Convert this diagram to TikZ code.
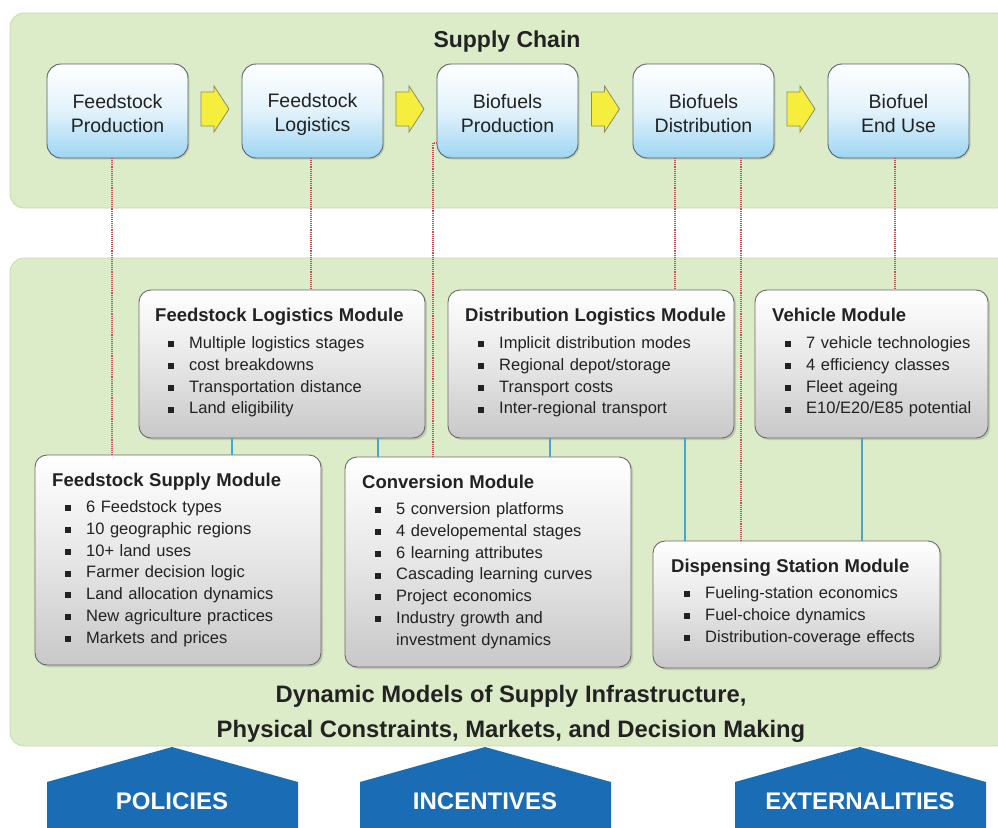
\documentclass[tikz,border=0pt]{standalone}
\usepackage{fontspec}
\setmainfont{Liberation Sans}
\usetikzlibrary{shadows,calc}
\setlength{\parindent}{0pt}
\definecolor{panelfill}{RGB}{221,236,200}
\definecolor{paneldraw}{RGB}{200,216,178}
\definecolor{boxblue}{RGB}{158,213,243}
\definecolor{boxdraw}{RGB}{85,98,104}
\definecolor{modgray}{RGB}{200,200,200}
\definecolor{moddraw}{RGB}{105,105,105}
\definecolor{yfill}{RGB}{246,238,60}
\definecolor{ydraw}{RGB}{140,140,95}
\definecolor{reddot}{RGB}{200,80,80}
\definecolor{bluelink}{RGB}{72,165,205}
\definecolor{pentablue}{RGB}{26,109,181}
\definecolor{txt}{RGB}{34,34,34}
\newcommand\mtitle[1]{{\fontsize{18.5}{21.8}\selectfont\bfseries #1}}
\newcommand\bitem{\hspace*{12.5pt}\raisebox{1.3pt}{\rule{6pt}{6pt}}\hspace{15.5pt}}
\newcommand\bcont{\hspace*{34pt}}
\newcommand\tstrut{\rule[-1.5pt]{0pt}{22.5pt}}
\begin{document}
\begin{tikzpicture}[x=1pt,y=-1pt,
  panel/.style={fill=panelfill,draw=paneldraw,line width=0.8pt,rounded corners=14pt},
  topbox/.style={draw=boxdraw,line width=0.9pt,rounded corners=14pt,
    top color=white,bottom color=boxblue,middle color=boxblue!30,
    minimum width=141pt,minimum height=94pt,inner sep=0pt,outer sep=0pt,
    align=center,text=txt,font=\fontsize{19.5}{24}\selectfont,
    drop shadow={shadow xshift=1.5pt,shadow yshift=-1.5pt,opacity=0.25}},
  modbox/.style={draw=moddraw,line width=0.9pt,rounded corners=12pt,
    top color=white,bottom color=modgray,middle color=modgray!45,
    anchor=north west,inner sep=0pt,outer sep=0pt,
    drop shadow={shadow xshift=2pt,shadow yshift=-2pt,opacity=0.3}},
  modtext/.style={anchor=north west,inner sep=0pt,text width=270pt,align=left,
    text=txt,font=\fontsize{16.5}{21.8}\selectfont},
  yarrow/.style={fill=yfill,draw=ydraw,line width=0.8pt,line join=miter},
  reddotted/.style={draw=reddot,line width=1.1pt,densely dotted},
  bluelinestyle/.style={draw=bluelink,line width=1.6pt},
  penta/.style={fill=pentablue},
  pentatext/.style={text=white,font=\fontsize{24}{28}\selectfont\bfseries}]
\useasboundingbox (0,0) rectangle (998,827);

% panels
\path[panel] (10,13) rectangle (1010,208);
\path[panel] (10,258) rectangle (1010,746);

\node[anchor=base,text=txt,font=\fontsize{23}{27}\selectfont\bfseries] (sc) at (507,47) {Supply Chain};

% top boxes
\node[topbox] (b1) at (117.5,111) {\tstrut Feedstock\\\tstrut Production};
\node[topbox] (b2) at (312.5,111) {\tstrut Feedstock\\\tstrut Logistics};
\node[topbox] (b3) at (507.5,111) {\tstrut Biofuels\\\tstrut Production};
\node[topbox] (b4) at (703.5,111) {\tstrut Biofuels\\\tstrut Distribution};
\node[topbox] (b5) at (898.5,111) {\tstrut Biofuel\\\tstrut End Use};

% yellow block arrows
\foreach \a/\b in {b1/b2,b2/b3,b3/b4,b4/b5}{
  \coordinate (m) at ($(\a.east)!0.5!(\b.west)+(0,-2)$);
  \begin{scope}[shift={(m)}]
    \draw[yarrow] (-14,-17) -- (-1,-17) -- (-1,-23) -- (14,0) -- (-1,23) -- (-1,17) -- (-14,17) -- cycle;
  \end{scope}
}

% module boxes
\node[modbox,minimum width=286pt,minimum height=148pt] (flm) at (139,290) {};
\node[modbox,minimum width=286pt,minimum height=148pt] (dlm) at (448,290) {};
\node[modbox,minimum width=233pt,minimum height=148pt] (veh) at (755,290) {};
\node[modbox,minimum width=286pt,minimum height=210pt] (fsm) at (35,455) {};
\node[modbox,minimum width=286pt,minimum height=210pt] (conv) at (345,457) {};
\node[modbox,minimum width=287pt,minimum height=127pt] (disp) at (653,541) {};

% module texts
\node[modtext] (flmt) at (155,308) {\mtitle{Feedstock Logistics Module}\\[5pt]
\bitem Multiple logistics stages\\
\bitem cost breakdowns\\
\bitem Transportation distance\\
\bitem Land eligibility};
\node[modtext] (dlmt) at (465,308) {\mtitle{Distribution Logistics Module}\\[5pt]
\bitem Implicit distribution modes\\
\bitem Regional depot/storage\\
\bitem Transport costs\\
\bitem Inter-regional transport};
\node[modtext] (veht) at (772,308) {\mtitle{Vehicle Module}\\[5pt]
\bitem 7 vehicle technologies\\
\bitem 4 efficiency classes\\
\bitem Fleet ageing\\
\bitem E10/E20/E85 potential};
\node[modtext] (fsmt) at (52,473) {\mtitle{Feedstock Supply Module}\\[4pt]
\bitem 6 Feedstock types\\
\bitem 10 geographic regions\\
\bitem 10+ land uses\\
\bitem Farmer decision logic\\
\bitem Land allocation dynamics\\
\bitem New agriculture practices\\
\bitem Markets and prices};
\node[modtext] (convt) at (362,475) {\mtitle{Conversion Module}\\[4pt]
\bitem 5 conversion platforms\\
\bitem 4 developemental stages\\
\bitem 6 learning attributes\\
\bitem Cascading learning curves\\
\bitem Project economics\\
\bitem Industry growth and\\
\bcont investment dynamics};
\node[modtext] (dispt) at (671,559) {\mtitle{Dispensing Station Module}\\[4pt]
\bitem Fueling-station economics\\
\bitem Fuel-choice dynamics\\
\bitem Distribution-coverage effects};

% red dotted links
\coordinate (r1) at ([xshift=-5.5pt]b1.south);
\draw[reddotted] (r1) -- (r1 |- fsm.north);
\coordinate (r2) at ([xshift=-1.5pt]b2.south);
\draw[reddotted] (r2) -- (r2 |- flm.north);
\coordinate (r3a) at ([yshift=-32pt]b3.west);
\coordinate (r3b) at ([xshift=-4pt]r3a);
\draw[reddotted] (r3a) -- (r3b) -- (r3b |- conv.north);
\coordinate (r4) at ([xshift=-28.5pt]b4.south);
\draw[reddotted] (r4) -- (r4 |- dlm.north);
\coordinate (r5) at ([xshift=37.5pt]b4.south);
\draw[reddotted] (r5) -- (r5 |- disp.north);
\coordinate (r6) at ([xshift=-3.5pt]b5.south);
\draw[reddotted] (r6) -- (r6 |- veh.north);

% blue solid links
\coordinate (u1) at ([xshift=93pt]flm.south west);
\draw[bluelinestyle] (u1) -- (u1 |- fsm.north);
\coordinate (u2) at ([xshift=239pt]flm.south west);
\draw[bluelinestyle] (u2) -- (u2 |- conv.north);
\coordinate (u3) at ([xshift=102pt]dlm.south west);
\draw[bluelinestyle] (u3) -- (u3 |- conv.north);
\coordinate (u4) at ([xshift=237pt]dlm.south west);
\draw[bluelinestyle] (u4) -- (u4 |- disp.north);
\coordinate (u5) at ([xshift=107pt]veh.south west);
\draw[bluelinestyle] (u5) -- (u5 |- disp.north);

% bottom caption
\node[anchor=north,align=center,text=txt,font=\fontsize{23.8}{35}\selectfont\bfseries] (dyn) at (511,682)
  {Dynamic Models of Supply Infrastructure,\\Physical Constraints, Markets, and Decision Making};

% pentagons
\fill[penta] (47,830) -- (47,782) -- (172,747) -- (298,782) -- (298,830) -- cycle;
\fill[penta] (360,830) -- (360,782) -- (485,747) -- (611,782) -- (611,830) -- cycle;
\fill[penta] (735,830) -- (735,782) -- (860,747) -- (986,782) -- (986,830) -- cycle;
\node[pentatext] (pol) at (172,801) {POLICIES};
\node[pentatext] (inc) at (485,801) {INCENTIVES};
\node[pentatext] (ext) at (860,801) {EXTERNALITIES};
\end{tikzpicture}
\end{document}
